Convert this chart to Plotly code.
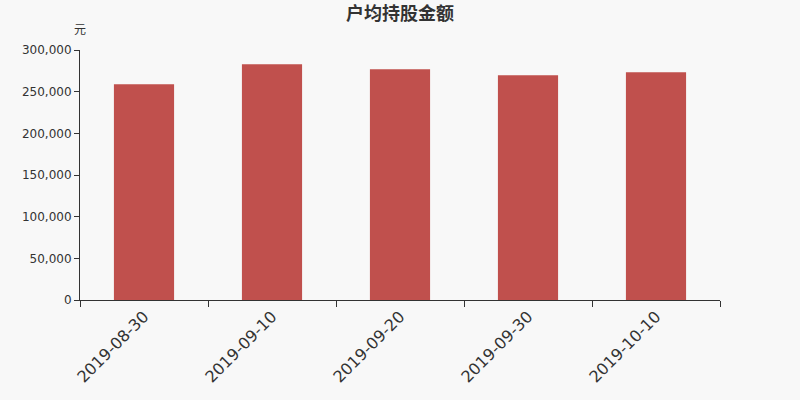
import plotly.graph_objects as go

dates = ['2019-08-30', '2019-09-10', '2019-09-20', '2019-09-30', '2019-10-10']
amount = [258900, 282900, 276900, 269600, 273200]

fig = go.Figure(layout=go.Layout(width=800, height=400))
fig.add_trace(
    go.Bar(x=dates, y=amount, marker_color='#c0504d', width=0.47,
           marker_line_width=0)
)
fig.update_layout(
    title=dict(text='<b>户均持股金额</b>', x=0.5, xanchor='center', y=0.965,
               yanchor='middle',
               font=dict(size=18, color='#333333', family='Noto Sans CJK SC')),
    plot_bgcolor='#f8f8f8',
    paper_bgcolor='#f8f8f8',
    font=dict(family='DejaVu Sans', color='#333333'),
    margin=dict(l=80, r=80, t=50, b=100),
    showlegend=False,
)
fig.update_xaxes(
    type='category', tickson='boundaries', ticks='outside', ticklen=6,
    tickcolor='#333333', showline=True, linecolor='#333333', linewidth=1,
    tickangle=-45, tickfont=dict(size=16, color='#333333'), showgrid=False,
)
fig.update_yaxes(
    range=[0, 300000], tickvals=[0, 50000, 100000, 150000, 200000, 250000, 300000],
    tickformat=',', ticks='outside', ticklen=5, tickcolor='#333333',
    showline=True, linecolor='#333333', linewidth=1, showgrid=False,
    tickfont=dict(size=12, color='#333333'), zeroline=False,
)
fig.add_annotation(text='元', xref='paper', yref='paper', x=0, y=1.0, yshift=22,
                   showarrow=False, xanchor='center', yanchor='middle',
                   font=dict(size=12, color='#333333', family='Noto Sans CJK SC'))
fig.write_html('out.html', config={'displayModeBar': False},
               post_script="document.body.style.margin='0';")
